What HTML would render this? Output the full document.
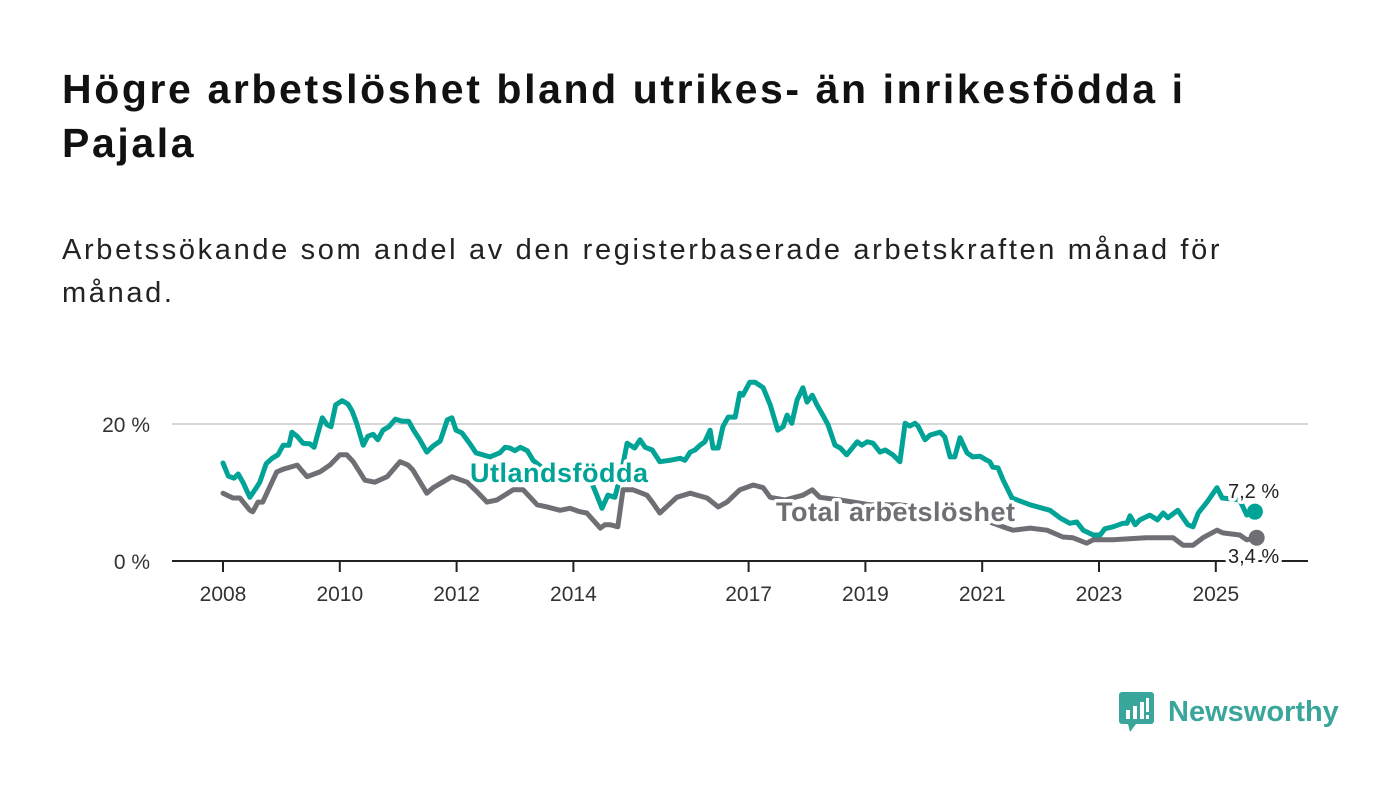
<!DOCTYPE html>
<html><head><meta charset="utf-8"><style>
body{margin:0;width:1400px;height:794px;background:#fff;font-family:"Liberation Sans",sans-serif;overflow:hidden;position:relative}
h1{position:absolute;left:62px;top:62px;margin:0;font-size:41px;letter-spacing:2.6px;line-height:54px;font-weight:bold;color:#111;width:1330px}
p.sub{position:absolute;left:62px;top:229px;margin:0;font-size:29px;letter-spacing:2.65px;line-height:43px;color:#222;width:1330px}
svg{position:absolute;left:0;top:0}
</style></head><body>
<h1>Högre arbetslöshet bland utrikes- än inrikesfödda i<br>Pajala</h1>
<p class="sub">Arbetssökande som andel av den registerbaserade arbetskraften månad för<br>månad.</p>
<svg id="chart" width="1400" height="794"></svg>
<div style="position:absolute;left:1118px;top:690px;height:44px;display:flex;align-items:center">
<svg width="38" height="44" style="position:static"><rect x="1" y="2" width="35" height="32" rx="3" fill="#3aa59a"/><polygon points="10,34 18,34 12,42" fill="#3aa59a"/><rect x="8" y="20" width="4" height="9" fill="#fff"/><rect x="15" y="16" width="4" height="13" fill="#fff"/><rect x="22" y="12" width="4" height="17" fill="#fff"/><rect x="28" y="8" width="3" height="14" fill="#fff"/><rect x="28" y="25" width="3" height="4" fill="#fff"/></svg>
<span style="margin-left:12px;font-size:29px;font-weight:bold;color:#3aa59a">Newsworthy</span></div>
<script>
const tealT=[2008,2008.09,2008.19,2008.26,2008.34,2008.46,2008.57,2008.63,2008.74,2008.84,2008.94,2009.03,2009.13,2009.18,2009.27,2009.37,2009.49,2009.56,2009.63,2009.70,2009.78,2009.85,2009.93,2010.04,2010.14,2010.21,2010.29,2010.40,2010.48,2010.57,2010.65,2010.74,2010.84,2010.95,2011.07,2011.18,2011.27,2011.37,2011.49,2011.60,2011.72,2011.84,2011.92,2011.99,2012.09,2012.23,2012.33,2012.57,2012.74,2012.83,2012.91,2013.00,2013.09,2013.21,2013.31,2013.51,2013.77,2014.03,2014.28,2014.40,2014.49,2014.59,2014.71,2014.83,2014.92,2015.05,2015.14,2015.23,2015.35,2015.48,2015.65,2015.83,2015.91,2016.00,2016.08,2016.17,2016.25,2016.34,2016.39,2016.48,2016.56,2016.65,2016.77,2016.85,2016.90,2017.02,2017.11,2017.25,2017.37,2017.50,2017.59,2017.66,2017.74,2017.83,2017.93,2018.00,2018.09,2018.17,2018.27,2018.36,2018.48,2018.57,2018.68,2018.86,2018.94,2019.03,2019.13,2019.25,2019.34,2019.47,2019.59,2019.68,2019.76,2019.85,2019.90,2020.02,2020.11,2020.28,2020.36,2020.45,2020.53,2020.62,2020.74,2020.84,2020.96,2021.08,2021.13,2021.18,2021.27,2021.36,2021.51,2021.82,2022.16,2022.33,2022.50,2022.62,2022.73,2022.90,2023.02,2023.10,2023.24,2023.41,2023.48,2023.53,2023.62,2023.70,2023.87,2024.00,2024.10,2024.18,2024.35,2024.52,2024.61,2024.70,2024.85,2025.02,2025.11,2025.24,2025.41,2025.53,2025.67];
const tealV=[14.3,12.4,12.1,12.7,11.5,9.3,10.7,11.5,14.2,15.0,15.5,16.9,16.9,18.8,18.2,17.2,17.1,16.6,18.8,20.9,19.9,19.6,22.8,23.4,22.9,21.9,20.1,16.9,18.2,18.5,17.7,19.1,19.6,20.7,20.4,20.4,19.0,17.7,15.9,16.8,17.5,20.6,20.9,19.1,18.7,17.1,15.8,15.2,15.8,16.6,16.5,16.1,16.6,16.1,14.7,13.3,12.6,12.1,12.1,9.6,7.7,9.6,9.3,13.3,17.2,16.5,17.7,16.6,16.2,14.5,14.7,15.0,14.7,15.9,16.2,16.9,17.4,19.1,16.5,16.5,19.6,21.0,21.0,24.5,24.2,26.1,26.1,25.3,22.8,19.1,19.6,21.3,20.1,23.5,25.3,23.2,24.2,22.8,21.3,19.9,16.9,16.5,15.5,17.4,16.9,17.4,17.2,15.9,16.2,15.5,14.5,20.1,19.7,20.1,19.7,17.7,18.4,18.8,18.1,15.2,15.2,18.0,15.8,15.2,15.3,14.7,14.5,13.7,13.6,11.8,9.2,8.2,7.4,6.3,5.5,5.7,4.5,3.8,3.8,4.7,5.0,5.5,5.5,6.6,5.3,6.0,6.7,6.0,7.0,6.3,7.4,5.3,5.0,7.0,8.6,10.7,9.2,9.1,8.9,6.7,7.2];
const grayT=[2008,2008.17,2008.29,2008.46,2008.51,2008.60,2008.68,2008.92,2009.03,2009.27,2009.44,2009.66,2009.83,2010.00,2010.12,2010.23,2010.43,2010.60,2010.81,2011.03,2011.17,2011.25,2011.49,2011.60,2011.92,2012.18,2012.35,2012.52,2012.69,2012.97,2013.14,2013.38,2013.55,2013.77,2013.94,2014.11,2014.23,2014.46,2014.54,2014.63,2014.76,2014.85,2015.02,2015.26,2015.36,2015.48,2015.77,2016.00,2016.29,2016.48,2016.63,2016.85,2017.08,2017.25,2017.37,2017.62,2017.93,2018.09,2018.22,2018.57,2019.08,2019.59,2020.11,2020.62,2021.13,2021.42,2021.53,2021.82,2022.11,2022.38,2022.55,2022.79,2022.90,2023.24,2023.82,2024.27,2024.44,2024.61,2024.78,2025.02,2025.12,2025.41,2025.53,2025.70];
const grayV=[9.9,9.2,9.2,7.4,7.2,8.6,8.6,13.0,13.4,14.0,12.3,13.0,14.0,15.5,15.5,14.5,11.8,11.5,12.3,14.5,14.0,13.3,9.9,10.7,12.3,11.5,10.1,8.6,8.9,10.4,10.4,8.2,7.9,7.4,7.7,7.2,7.0,4.8,5.3,5.3,5.0,10.4,10.4,9.6,8.5,7.0,9.3,9.9,9.2,7.9,8.6,10.4,11.1,10.7,9.3,8.9,9.6,10.4,9.3,8.9,8.2,8.2,7.7,6.7,5.7,4.8,4.5,4.8,4.5,3.5,3.4,2.6,3.1,3.1,3.4,3.4,2.3,2.3,3.4,4.5,4.1,3.8,3.1,3.4];
const xTicks=[2008,2010,2012,2014,2017,2019,2021,2023,2025];
const yTicks=[0,20];
const yTickLabels=["0 %","20 %"];
const NS='http://www.w3.org/2000/svg';
const svg=document.getElementById('chart');
const X=t=>223+(t-2008)*58.4;
const Y=v=>561-v*6.85;
function mk(tag,attrs,parent){const e=document.createElementNS(NS,tag);for(const k in attrs)e.setAttribute(k,attrs[k]);(parent||svg).appendChild(e);return e;}
yTicks.forEach((v,i)=>{
 if(v>0){const g=mk('line',{x1:172,x2:1308,y1:Y(v),y2:Y(v),stroke:'#d8d8d8','stroke-width':2});
 
 }
 const t=mk('text',{x:150,y:Y(v)+8,'text-anchor':'end','font-size':21,fill:'#333'});t.textContent=yTickLabels[i];
 
 
});
function line(T,V,color,name){
 const d=T.map((t,i)=>(i?'L':'M')+X(t).toFixed(1)+','+Y(V[i]).toFixed(1)).join('');
 const p=mk('path',{d:d,fill:'none',stroke:color,'stroke-width':5,'stroke-linejoin':'round','stroke-linecap':'round'});
 
 
 const c=mk('circle',{cx:X(T[T.length-1]),cy:Y(V[V.length-1]),r:8,fill:color});
 
 
}
line(grayT,grayV,'#6f6e74','total-line');
line(tealT,tealV,'#00a396','foreign-born-line');
const ax=mk('line',{x1:172,x2:1308,y1:561,y2:561,stroke:'#222','stroke-width':2});


xTicks.forEach(t=>{
 const l=mk('line',{x1:X(t),x2:X(t),y1:561,y2:572,stroke:'#222','stroke-width':2});
 
 
 const tx=mk('text',{x:X(t),y:601,'text-anchor':'middle','font-size':21,fill:'#333'});tx.textContent=t;
 
 
});
function label(x,y,txt,color,size,weight,name,ls){
 const t=mk('text',{x:x,y:y,'font-size':size,'font-weight':weight,fill:color,stroke:'#fff','stroke-width':7,'paint-order':'stroke','stroke-linejoin':'round','letter-spacing':ls||0});
 t.textContent=txt;
 
 
}
label(470,482,'Utlandsfödda','#00a396',27,'bold','series-label-foreign-born',0.5);
label(776,521,'Total arbetslöshet','#6f6e74',27,'bold','series-label-total',0.5);
label(1228,498,'7,2 %','#222',20,'normal','end-value-foreign-born');
label(1228,563,'3,4 %','#222',20,'normal','end-value-total');
</script>
</body></html>
